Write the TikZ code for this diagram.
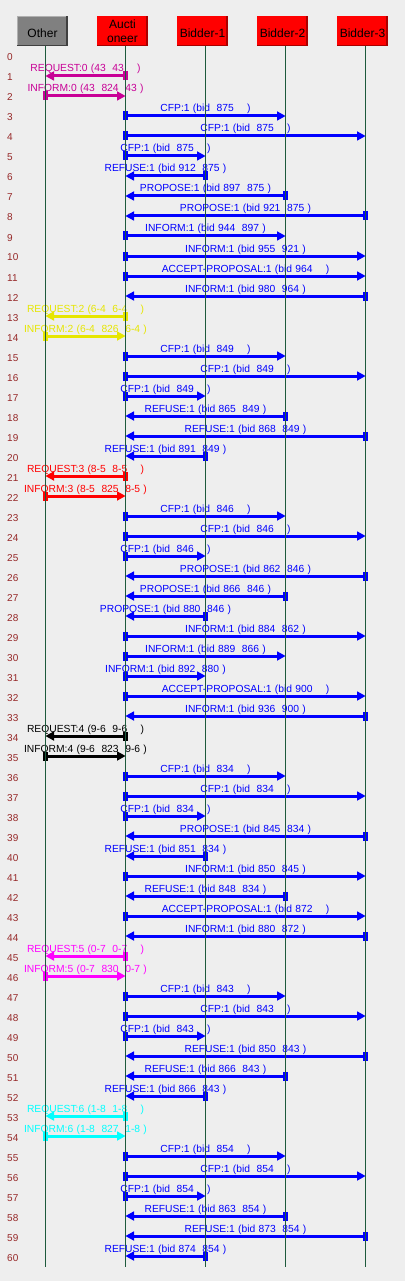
\documentclass[tikz,border=0pt]{standalone}
\usepackage{fontspec}
\setmainfont{Liberation Sans}
\usetikzlibrary{arrows.meta,calc}
\definecolor{bg}{RGB}{238,238,238}
\definecolor{lifec}{RGB}{30,90,60}
\definecolor{numc}{RGB}{150,40,40}
\definecolor{cB}{RGB}{0,0,255}
\definecolor{cP}{RGB}{200,0,150}
\definecolor{cY}{RGB}{230,230,0}
\definecolor{cR}{RGB}{255,0,0}
\definecolor{cK}{RGB}{0,0,0}
\definecolor{cM}{RGB}{255,0,255}
\definecolor{cC}{RGB}{0,255,255}
\definecolor{boxgray}{RGB}{128,128,128}
\definecolor{boxgraylt}{RGB}{176,176,176}
\definecolor{boxgraydk}{RGB}{64,64,64}
\definecolor{boxred}{RGB}{255,0,0}
\definecolor{boxreddk}{RGB}{170,0,0}
\newcommand\Lsp{\hspace{3.3pt}}
\newcommand\Lcfp[1]{CFP:1\Lsp(bid\Lsp\Lsp#1\Lsp\Lsp\Lsp\Lsp)}
\newcommand\Ltwo[3]{#1:1\Lsp(bid\Lsp#2\Lsp\Lsp#3\Lsp)}
\newcommand\Lacc[1]{ACCEPT-PROPOSAL:1\Lsp(bid\Lsp#1\Lsp\Lsp\Lsp\Lsp)}
\newcommand\Lreq[2]{REQUEST:#1\Lsp(#2\Lsp\Lsp#2\Lsp\Lsp\Lsp\Lsp)}
\newcommand\Linf[3]{INFORM:#1\Lsp(#2\Lsp\Lsp#3\Lsp\Lsp#2\Lsp)}
\newcommand\Lmsg[5]{%
  \pgfmathsetmacro\yy{56+20*#1}%
  \coordinate (s#1) at (#2 |- 0,\yy);%
  \coordinate (e#1) at (#3 |- 0,\yy);%
  \draw[msgline,draw=#4,fill=#4] (s#1) -- (e#1);%
  \node[lbl,text=#4] (t#1) at ($(s#1)!0.5!(e#1)+(0,-4)$) {#5};%
}
\newcommand\Lbox[5]{% name, lifeline x, fill, light, dark
  \node[boxst,fill=#3] (#1) at (#2-3,31) {};
  \fill[#4] (#1.north west) rectangle ([xshift=1pt]#1.south west);
  \fill[#4] (#1.north west) rectangle ([yshift=-1pt]#1.north east);
  \fill[#5] ([xshift=-1.7pt]#1.north east) rectangle (#1.south east);
  \fill[#5] ([yshift=1.3pt]#1.south west) rectangle (#1.south east);
}
\begin{document}
\begin{tikzpicture}[x=1pt,y=-1pt,
  boxst/.style={minimum width=50.7pt,minimum height=30pt,inner sep=0pt,outer sep=0pt},
  hdr/.style={font=\fontsize{12}{13}\selectfont,inner sep=0pt,anchor=base,text=black},
  lbl/.style={font=\fontsize{10.3}{12}\selectfont,inner sep=0pt,anchor=base},
  rownum/.style={font=\fontsize{10}{12}\selectfont,inner sep=0pt,anchor=base west,text=numc},
  life/.style={draw=lifec,line width=1pt},
  msgline/.style={line width=3pt,
    {Rectangle[length=4.6pt,width=9pt,line width=0pt]}-{Triangle[length=8.5pt,width=9.5pt,line width=0pt]},
    shorten <=-2.3pt}]
\fill[bg] (0,0) rectangle (405,1281);
\useasboundingbox (0,0) rectangle (405,1281);
% header boxes
\Lbox{O}{45.5}{boxgray}{boxgraylt}{boxgraydk}
\Lbox{A}{125.5}{boxred}{boxred}{boxreddk}
\Lbox{B1}{205.5}{boxred}{boxred}{boxreddk}
\Lbox{B2}{285.5}{boxred}{boxred}{boxreddk}
\Lbox{B3}{365.5}{boxred}{boxred}{boxreddk}
\node[hdr] (Ot) at (42.5,37.3) {Other};
\node[hdr] (At1) at (122.5,29) {Aucti};
\node[hdr] (At2) at (122.5,42.3) {oneer};
\node[hdr] (B1t) at (202.5,37.3) {Bidder-1};
\node[hdr] (B2t) at (282.5,37.3) {Bidder-2};
\node[hdr] (B3t) at (362.5,37.3) {Bidder-3};
% lifeline anchors
\coordinate (LO) at (45.5,46.5);
\coordinate (LA) at (125.5,46.5);
\coordinate (LB1) at (205.5,46.5);
\coordinate (LB2) at (285.5,46.5);
\coordinate (LB3) at (365.5,46.5);
\coordinate (LOb) at (45.5,1267);
\coordinate (LAb) at (125.5,1267);
\coordinate (LB1b) at (205.5,1267);
\coordinate (LB2b) at (285.5,1267);
\coordinate (LB3b) at (365.5,1267);
% row numbers
\foreach \k in {0,...,60} {\node[rownum] (n\k) at (7,61+20*\k) {\k};}
% messages
\Lmsg{1}{LA}{LO}{cP}{\Lreq{0}{43}}
\Lmsg{2}{LO}{LA}{cP}{\Linf{0}{43}{824}}
\Lmsg{3}{LA}{LB2}{cB}{\Lcfp{875}}
\Lmsg{4}{LA}{LB3}{cB}{\Lcfp{875}}
\Lmsg{5}{LA}{LB1}{cB}{\Lcfp{875}}
\Lmsg{6}{LB1}{LA}{cB}{\Ltwo{REFUSE}{912}{875}}
\Lmsg{7}{LB2}{LA}{cB}{\Ltwo{PROPOSE}{897}{875}}
\Lmsg{8}{LB3}{LA}{cB}{\Ltwo{PROPOSE}{921}{875}}
\Lmsg{9}{LA}{LB2}{cB}{\Ltwo{INFORM}{944}{897}}
\Lmsg{10}{LA}{LB3}{cB}{\Ltwo{INFORM}{955}{921}}
\Lmsg{11}{LA}{LB3}{cB}{\Lacc{964}}
\Lmsg{12}{LB3}{LA}{cB}{\Ltwo{INFORM}{980}{964}}
\Lmsg{13}{LA}{LO}{cY}{\Lreq{2}{6-4}}
\Lmsg{14}{LO}{LA}{cY}{\Linf{2}{6-4}{826}}
\Lmsg{15}{LA}{LB2}{cB}{\Lcfp{849}}
\Lmsg{16}{LA}{LB3}{cB}{\Lcfp{849}}
\Lmsg{17}{LA}{LB1}{cB}{\Lcfp{849}}
\Lmsg{18}{LB2}{LA}{cB}{\Ltwo{REFUSE}{865}{849}}
\Lmsg{19}{LB3}{LA}{cB}{\Ltwo{REFUSE}{868}{849}}
\Lmsg{20}{LB1}{LA}{cB}{\Ltwo{REFUSE}{891}{849}}
\Lmsg{21}{LA}{LO}{cR}{\Lreq{3}{8-5}}
\Lmsg{22}{LO}{LA}{cR}{\Linf{3}{8-5}{825}}
\Lmsg{23}{LA}{LB2}{cB}{\Lcfp{846}}
\Lmsg{24}{LA}{LB3}{cB}{\Lcfp{846}}
\Lmsg{25}{LA}{LB1}{cB}{\Lcfp{846}}
\Lmsg{26}{LB3}{LA}{cB}{\Ltwo{PROPOSE}{862}{846}}
\Lmsg{27}{LB2}{LA}{cB}{\Ltwo{PROPOSE}{866}{846}}
\Lmsg{28}{LB1}{LA}{cB}{\Ltwo{PROPOSE}{880}{846}}
\Lmsg{29}{LA}{LB3}{cB}{\Ltwo{INFORM}{884}{862}}
\Lmsg{30}{LA}{LB2}{cB}{\Ltwo{INFORM}{889}{866}}
\Lmsg{31}{LA}{LB1}{cB}{\Ltwo{INFORM}{892}{880}}
\Lmsg{32}{LA}{LB3}{cB}{\Lacc{900}}
\Lmsg{33}{LB3}{LA}{cB}{\Ltwo{INFORM}{936}{900}}
\Lmsg{34}{LA}{LO}{cK}{\Lreq{4}{9-6}}
\Lmsg{35}{LO}{LA}{cK}{\Linf{4}{9-6}{823}}
\Lmsg{36}{LA}{LB2}{cB}{\Lcfp{834}}
\Lmsg{37}{LA}{LB3}{cB}{\Lcfp{834}}
\Lmsg{38}{LA}{LB1}{cB}{\Lcfp{834}}
\Lmsg{39}{LB3}{LA}{cB}{\Ltwo{PROPOSE}{845}{834}}
\Lmsg{40}{LB1}{LA}{cB}{\Ltwo{REFUSE}{851}{834}}
\Lmsg{41}{LA}{LB3}{cB}{\Ltwo{INFORM}{850}{845}}
\Lmsg{42}{LB2}{LA}{cB}{\Ltwo{REFUSE}{848}{834}}
\Lmsg{43}{LA}{LB3}{cB}{\Lacc{872}}
\Lmsg{44}{LB3}{LA}{cB}{\Ltwo{INFORM}{880}{872}}
\Lmsg{45}{LA}{LO}{cM}{\Lreq{5}{0-7}}
\Lmsg{46}{LO}{LA}{cM}{\Linf{5}{0-7}{830}}
\Lmsg{47}{LA}{LB2}{cB}{\Lcfp{843}}
\Lmsg{48}{LA}{LB3}{cB}{\Lcfp{843}}
\Lmsg{49}{LA}{LB1}{cB}{\Lcfp{843}}
\Lmsg{50}{LB3}{LA}{cB}{\Ltwo{REFUSE}{850}{843}}
\Lmsg{51}{LB2}{LA}{cB}{\Ltwo{REFUSE}{866}{843}}
\Lmsg{52}{LB1}{LA}{cB}{\Ltwo{REFUSE}{866}{843}}
\Lmsg{53}{LA}{LO}{cC}{\Lreq{6}{1-8}}
\Lmsg{54}{LO}{LA}{cC}{\Linf{6}{1-8}{827}}
\Lmsg{55}{LA}{LB2}{cB}{\Lcfp{854}}
\Lmsg{56}{LA}{LB3}{cB}{\Lcfp{854}}
\Lmsg{57}{LA}{LB1}{cB}{\Lcfp{854}}
\Lmsg{58}{LB2}{LA}{cB}{\Ltwo{REFUSE}{863}{854}}
\Lmsg{59}{LB3}{LA}{cB}{\Ltwo{REFUSE}{873}{854}}
\Lmsg{60}{LB1}{LA}{cB}{\Ltwo{REFUSE}{874}{854}}
% lifelines on top
\draw[life] (LO) -- (LOb);
\draw[life] (LA) -- (LAb);
\draw[life] (LB1) -- (LB1b);
\draw[life] (LB2) -- (LB2b);
\draw[life] (LB3) -- (LB3b);
\end{tikzpicture}
\end{document}
